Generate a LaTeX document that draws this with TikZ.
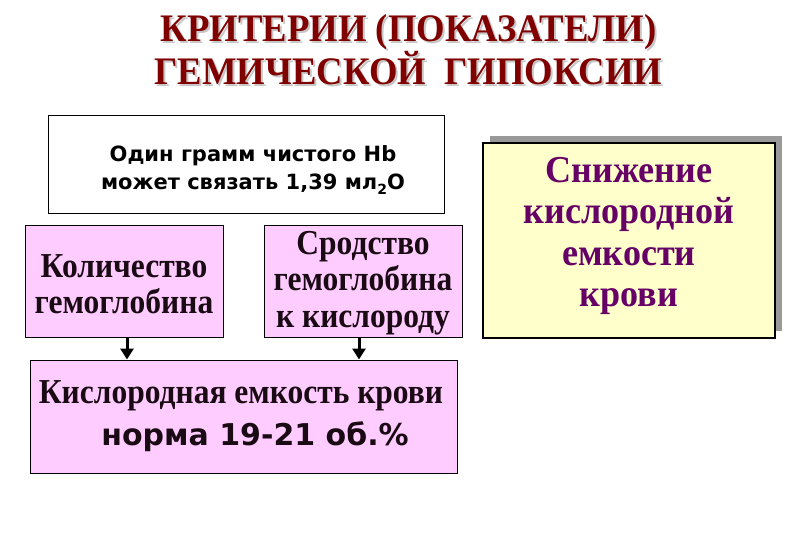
\documentclass[tikz,border=0pt]{standalone}
\usepackage{fontspec}
\usepackage{graphicx}
\setmainfont{Liberation Serif}
\newfontfamily\boxsans{DejaVu Sans}
\usetikzlibrary{arrows.meta}
\definecolor{titlered}{HTML}{800000}
\definecolor{pinkfill}{HTML}{FFCCFF}
\definecolor{yellowfill}{HTML}{FFFFCC}
\definecolor{purpletext}{HTML}{660066}
\definecolor{shadowgray}{HTML}{999999}
\definecolor{darktext}{HTML}{1A0A14}
\newcommand{\hsq}[2]{\scalebox{#1}[1]{#2}}
\tikzset{
  titletext/.style={font=\fontsize{39}{43}\selectfont\bfseries, text=titlered, align=center, inner sep=0pt},
  titleshadow/.style={font=\fontsize{39}{43}\selectfont\bfseries, text=shadowgray!55, align=center, inner sep=0pt},
  boxline/.style={draw=black, line width=1pt, inner sep=0pt},
  whitebox/.style={boxline, fill=white, minimum width=396pt, minimum height=97pt},
  pinkbox/.style={boxline, fill=pinkfill},
  pinktext/.style={align=center, inner sep=0pt, text=darktext, font=\fontsize{35}{36.5}\selectfont\bfseries},
  yellowbox/.style={draw=black, line width=2pt, fill=yellowfill, minimum width=292pt, minimum height=195pt, inner sep=0pt},
  yellowtext/.style={align=center, inner sep=0pt, text=purpletext, font=\fontsize{38}{41.5}\selectfont\bfseries},
  shadowbox/.style={fill=shadowgray, minimum width=292pt, minimum height=195pt, inner sep=0pt},
  arr/.style={line width=3pt, -{Triangle[length=11pt,width=13pt]}}
}
\begin{document}
\begin{tikzpicture}[x=1pt,y=-1pt]
\useasboundingbox[fill=white] (0,0) rectangle (810,540);
% title
\node[titleshadow] (tsh) at (410.5,51.5) {\hsq{0.94}{КРИТЕРИИ (ПОКАЗАТЕЛИ)}\\\hsq{0.94}{ГЕМИЧЕСКОЙ\ \ ГИПОКСИИ}};
\node[titletext] (title) at (408.5,49.5) {\hsq{0.94}{КРИТЕРИИ (ПОКАЗАТЕЛИ)}\\\hsq{0.94}{ГЕМИЧЕСКОЙ\ \ ГИПОКСИИ}};
% white box
\node[whitebox] (hb) at (246,164.5) {};
\node[align=center, inner sep=0pt, font=\boxsans\fontsize{21}{28}\selectfont\bfseries] (hbt) at (253,170)
  {Один грамм чистого Hb\\может связать 1,39 мл\raisebox{-5pt}{\fontsize{14}{14}\selectfont 2}О};
% pink boxes
\node[pinkbox, minimum width=198pt, minimum height=112pt] (kol) at (124,281) {};
\node[pinktext] (kolt) at (124,284) {\hsq{0.9}{Количество}\\\hsq{0.9}{гемоглобина}};
\node[pinkbox, minimum width=198pt, minimum height=112pt] (srod) at (363,281) {};
\node[pinktext] (srodt) at (363,283) {\hsq{0.9}{Сродство}\\\hsq{0.9}{гемоглобина}\\\hsq{0.9}{к кислороду}};
\node[pinkbox, minimum width=427pt, minimum height=113pt] (kem) at (243.5,416.5) {};
\node[inner sep=0pt, text=darktext, font=\fontsize{35}{36}\selectfont\bfseries] (kemt) at (241,396)
  {\hsq{0.9}{Кислородная емкость крови}};
\node[inner sep=0pt, text=darktext, font=\boxsans\fontsize{30}{34}\selectfont\bfseries] (norm) at (255,437)
  {норма 19-21 об.\%};
% arrows
\draw[arr] ([xshift=3pt]kol.south) -- ([xshift=3pt]kol.south |- kem.north);
\draw[arr] ([xshift=-4pt]srod.south) -- ([xshift=-4pt]srod.south |- kem.north);
% right box with shadow
\node[shadowbox] (rsh) at (636,233.5) {};
\node[yellowbox] (sniz) at (629,240.5) {};
\node[yellowtext] (snizt) at (629,236)
  {\hsq{0.95}{Снижение}\\\hsq{0.95}{кислородной}\\\hsq{0.95}{емкости}\\\hsq{0.95}{крови}};
\end{tikzpicture}
\end{document}
